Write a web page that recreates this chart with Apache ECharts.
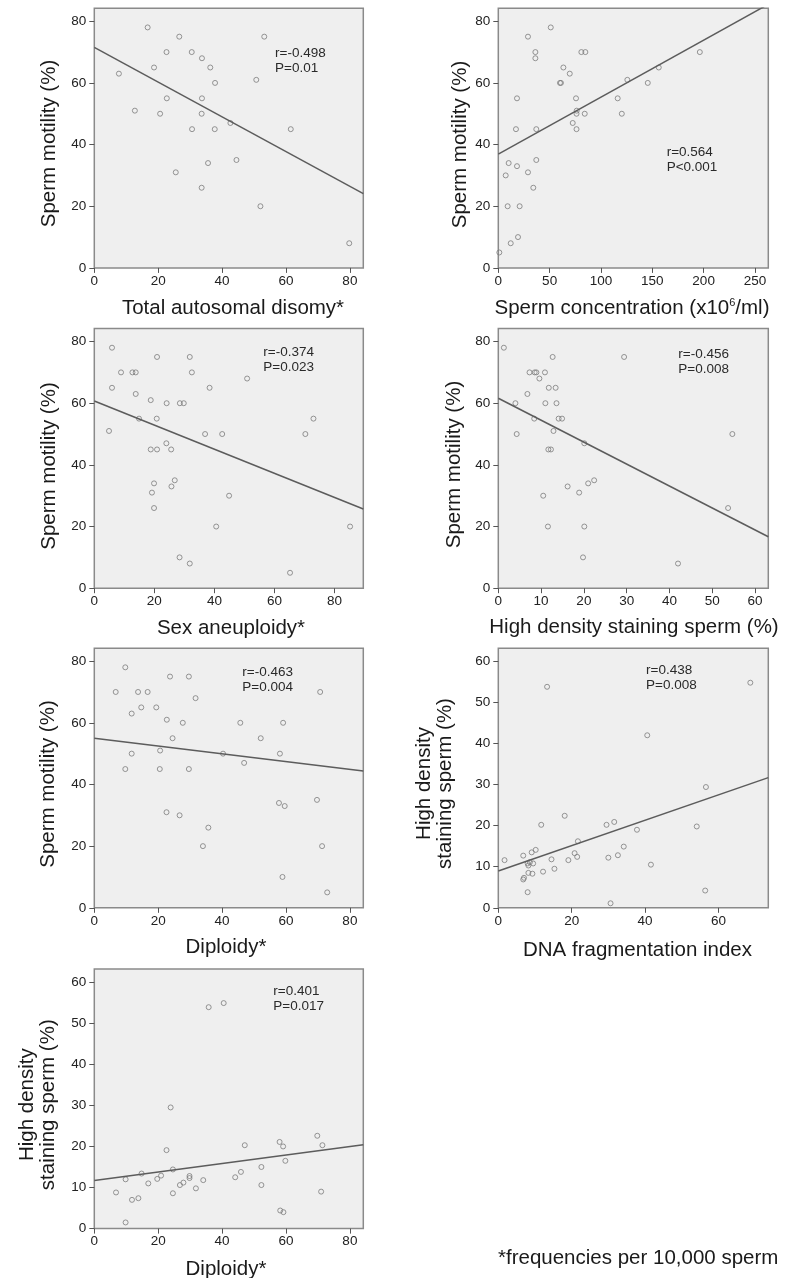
<!DOCTYPE html>
<html>
<head>
<meta charset="utf-8">
<script src="https://cdn.jsdelivr.net/npm/echarts@6/dist/echarts.min.js"></script>
<style>
html, body { margin: 0; padding: 0; background: #fff; }
#chart { width: 790px; height: 1278px; }
</style>
</head>
<body>
<div id="chart"></div>
<script>
// points [x, y], one array per panel
var autosomalMotility = [[7.7, 63], [16.7, 78], [12.7, 51], [18.7, 65], [22.6, 70], [22.7, 55], [20.6, 50], [26.6, 75], [25.5, 31], [30.5, 70], [30.6, 45], [33.7, 68], [33.7, 55], [33.6, 50], [33.6, 26], [36.3, 65], [37.8, 60], [37.7, 45], [35.6, 34], [42.6, 47], [44.5, 35], [50.7, 61], [53.2, 75], [52, 20], [61.5, 45], [79.8, 8]]
var concentrationMotility = [[1, 5], [7.2, 30], [10.1, 34], [9.1, 20], [12.1, 8], [17.2, 45], [18.2, 55], [18.2, 33], [19.2, 10], [20.8, 20], [28.9, 75], [28.9, 31], [34.1, 26], [36.1, 70], [36.1, 68], [37, 45], [37, 35], [51.1, 78], [60.1, 60], [61, 60], [63.4, 65], [69.6, 63], [72.5, 47], [75.7, 55], [76.4, 51], [76.2, 50], [76.2, 45], [80.9, 70], [84.8, 70], [84.2, 50], [116.3, 55], [120.3, 50], [125.7, 61], [145.6, 60], [156.3, 65], [196.3, 70]]
var sexAneuMotility = [[5.9, 78], [5.9, 65], [4.9, 51], [8.9, 70], [12.7, 70], [13.8, 70], [13.8, 63], [14.9, 55], [18.8, 61], [20.9, 75], [20.8, 55], [24.1, 60], [28.5, 60], [29.8, 60], [31.8, 75], [32.5, 70], [38.4, 65], [36.9, 50], [42.6, 50], [50.9, 68], [18.8, 45], [20.9, 45], [24, 47], [25.6, 45], [19.9, 34], [25.7, 33], [26.8, 35], [19.2, 31], [19.9, 26], [44.9, 30], [40.6, 20], [70.3, 50], [73, 55], [85.2, 20], [28.4, 10], [31.8, 8], [65.2, 5]]
var hdsMotility = [[1.3, 78], [4, 60], [4.3, 50], [6.8, 63], [7.3, 70], [8.5, 70], [8.9, 70], [9.6, 68], [8.4, 55], [10.9, 70], [11, 60], [11.8, 65], [13.4, 65], [12.7, 75], [13.6, 60], [12.9, 51], [11.7, 45], [12.3, 45], [14.1, 55], [14.9, 55], [20.1, 47], [16.2, 33], [18.9, 31], [21, 34], [22.4, 35], [10.5, 30], [11.6, 20], [20.1, 20], [29.4, 75], [54.7, 50], [53.7, 26], [19.8, 10], [42, 8]]
var diploidyMotility = [[6.7, 70], [9.7, 78], [11.7, 63], [9.7, 45], [11.7, 50], [13.7, 70], [14.7, 65], [16.7, 70], [19.4, 65], [22.7, 61], [23.7, 75], [24.5, 55], [20.6, 51], [20.5, 45], [27.7, 60], [29.6, 75], [29.6, 45], [31.7, 68], [40.3, 50], [45.7, 60], [46.9, 47], [52.1, 55], [58.1, 50], [59.1, 60], [70.7, 70], [57.8, 34], [59.6, 33], [69.7, 35], [22.6, 31], [26.7, 30], [35.7, 26], [34, 20], [71.3, 20], [58.9, 10], [72.9, 5]]
var dfiHds = [[13.3, 53.8], [68.7, 54.8], [40.6, 42], [56.6, 29.4], [1.7, 11.6], [6.8, 12.7], [6.8, 6.9], [7, 7.3], [8, 3.8], [8, 10.8], [8.2, 10.3], [8.6, 11.1], [8.2, 8.5], [9.3, 8.3], [9.5, 10.8], [9.1, 13.5], [10.2, 14.1], [11.7, 20.2], [12.2, 8.8], [14.5, 11.8], [15.3, 9.5], [18.1, 22.4], [19.1, 11.6], [20.8, 13.3], [21.5, 12.4], [21.7, 16.2], [29.5, 20.2], [31.6, 20.9], [30, 12.2], [30.6, 1.1], [32.6, 12.8], [34.2, 14.9], [37.8, 19], [41.6, 10.5], [54.1, 19.8], [56.4, 4.2]]
var diploidyHds = [[35.8, 53.9], [40.5, 54.9], [6.8, 8.8], [9.8, 1.5], [9.8, 12], [11.8, 7], [13.8, 7.4], [14.8, 13.4], [16.9, 11], [19.7, 12.1], [20.9, 12.9], [22.6, 19.1], [23.9, 29.5], [24.6, 14.4], [24.6, 8.6], [26.8, 10.6], [27.9, 11.2], [29.8, 12.8], [29.8, 12.3], [31.8, 9.8], [34.1, 11.8], [44.1, 12.5], [45.9, 13.8], [47.1, 20.3], [52.3, 15], [52.3, 10.6], [58, 21.1], [59.1, 20], [59.8, 16.5], [58.2, 4.4], [59.2, 4], [69.8, 22.6], [71.4, 20.3], [71, 9]]

// regression lines, [x, y] at both ends
var fitAutosomal = [[0, 71.5], [84.2, 24.1]]
var fitConcentration = [[0, 36.9], [263, 85.5]]
var fitSexAneu = [[0, 60.7], [89.6, 25.7]]
var fitHds = [[0, 61.6], [63.1, 16.7]]
var fitDiploidy = [[0, 55], [84.2, 44.4]]
var fitDfi = [[0, 8.95], [73.6, 31.7]]
var fitDiploidyHds = [[0, 11.7], [84.2, 20.4]]

// axis ranges and ticks
var xAxisMax = [84.2, 263, 89.6, 63.1, 84.2, 73.6, 84.2]
var yAxisMax = [84.2, 84.2, 84.2, 84.2, 84.2, 63.2, 63.2]
var ticks0to80 = [0, 20, 40, 60, 80]
var ticksConc = [0, 50, 100, 150, 200, 250]
var ticksBy10 = [0, 10, 20, 30, 40, 50, 60]
var ticks0to60 = [0, 20, 40, 60]

var xTitles = ['Total autosomal disomy*', 'Sperm concentration (x10{sup|6}/ml)', 'Sex aneuploidy*', 'High density staining sperm (%)', 'Diploidy*', 'DNA fragmentation index', 'Diploidy*']
var yTitles = ['Sperm motility (%)', 'Sperm motility (%)', 'Sperm motility (%)', 'Sperm motility (%)', 'Sperm motility (%)', 'High density\nstaining sperm (%)', 'High density\nstaining sperm (%)']
var statTexts = ['r=-0.498\nP=0.01', 'r=0.564\nP<0.001', 'r=-0.374\nP=0.023', 'r=-0.456\nP=0.008', 'r=-0.463\nP=0.004', 'r=0.438\nP=0.008', 'r=0.401\nP=0.017']
var footnote = '*frequencies per 10,000 sperm'

var points = [autosomalMotility, concentrationMotility, sexAneuMotility, hdsMotility, diploidyMotility, dfiHds, diploidyHds]
var fits = [fitAutosomal, fitConcentration, fitSexAneu, fitHds, fitDiploidy, fitDfi, fitDiploidyHds]
var xTicks = [ticks0to80, ticksConc, ticks0to80, ticksBy10, ticks0to80, ticks0to60, ticks0to80]
var yTicks = [ticks0to80, ticks0to80, ticks0to80, ticks0to80, ticks0to80, ticksBy10, ticksBy10]

var FONT = '"Liberation Sans", Arial, sans-serif'
var colLeft = [94.3, 498.3]
var colWidth = [269, 270]
var rowTop = [8.3, 328.6, 648.2, 969]
var plotH = 259.6

// text positions
var xTitlePos = [[233, 308], [632, 308.3], [231, 628.3], [634, 627.3], [226, 947], [637.5, 950], [226, 1269]]
var yTitlePos = [[49.7, 143.5], [460, 144.5], [49, 466], [454.5, 464.5], [48, 784], [434.5, 783.5], [37.5, 1104.7]]
var statPos = [[275, 53.3], [666.7, 152.7], [263.3, 352], [678.3, 354.3], [242.3, 672.3], [646, 670.7], [273.3, 991]]

var chart = echarts.init(document.getElementById('chart'), null, { renderer: 'canvas' })

var grids = []
var xAxes = []
var yAxes = []
var series = []
var graphics = []

for (var i = 0; i < points.length; i++) {
  var col = i % 2
  var row = Math.floor(i / 2)
  grids.push({
    show: true,
    left: colLeft[col],
    top: rowTop[row],
    width: colWidth[col],
    height: plotH,
    backgroundColor: '#efefef',
    borderColor: '#8a8a8a',
    borderWidth: 1.5
  })
  xAxes.push({
    type: 'value',
    gridIndex: i,
    min: 0,
    max: xAxisMax[i],
    axisLine: { show: false },
    axisTick: { show: true, length: 5, lineStyle: { color: '#555', width: 1 }, customValues: xTicks[i] },
    axisLabel: { customValues: xTicks[i], fontSize: 13.5, fontFamily: FONT, color: '#222', margin: 6 },
    splitLine: { show: false }
  })
  yAxes.push({
    type: 'value',
    gridIndex: i,
    min: 0,
    max: yAxisMax[i],
    axisLine: { show: false },
    axisTick: { show: true, length: 5, lineStyle: { color: '#555', width: 1 }, customValues: yTicks[i] },
    axisLabel: { customValues: yTicks[i], fontSize: 13.5, fontFamily: FONT, color: '#222', margin: 8 },
    splitLine: { show: false }
  })
  series.push({
    type: 'line',
    xAxisIndex: i,
    yAxisIndex: i,
    data: fits[i],
    symbol: 'none',
    clip: true,
    silent: true,
    lineStyle: { color: '#5c5c5c', width: 1.5 }
  })
  series.push({
    type: 'scatter',
    xAxisIndex: i,
    yAxisIndex: i,
    data: points[i],
    symbol: 'circle',
    symbolSize: 5,
    silent: true,
    itemStyle: { color: 'rgba(0,0,0,0)', borderColor: '#7c7c7c', borderWidth: 1 }
  })

  graphics.push({
    type: 'text',
    x: xTitlePos[i][0],
    y: xTitlePos[i][1],
    style: {
      text: xTitles[i],
      fontSize: 20.5,
      fontFamily: FONT,
      fill: '#1a1a1a',
      align: 'center',
      verticalAlign: 'middle',
      rich: { sup: { fontSize: 11, fontFamily: FONT, fill: '#1a1a1a', verticalAlign: 'top', padding: [0, 0, 10, 0] } }
    }
  })
  graphics.push({
    type: 'text',
    x: yTitlePos[i][0],
    y: yTitlePos[i][1],
    rotation: Math.PI / 2,
    style: {
      text: yTitles[i],
      fontSize: 20.5,
      fontFamily: FONT,
      fill: '#1a1a1a',
      lineHeight: 21,
      align: 'center',
      verticalAlign: 'middle'
    }
  })
  graphics.push({
    type: 'text',
    x: statPos[i][0],
    y: statPos[i][1] - 7.5,
    style: {
      text: statTexts[i],
      fontSize: 13.5,
      fontFamily: FONT,
      fill: '#2a2a2a',
      lineHeight: 15,
      align: 'left',
      verticalAlign: 'top'
    }
  })
}

graphics.push({
  type: 'text',
  x: 498,
  y: 1258,
  style: {
    text: footnote,
    fontSize: 20.5,
    fontFamily: FONT,
    fill: '#1a1a1a',
    align: 'left',
    verticalAlign: 'middle'
  }
})

chart.setOption({
  animation: false,
  backgroundColor: '#ffffff',
  grid: grids,
  xAxis: xAxes,
  yAxis: yAxes,
  series: series,
  graphic: graphics
})
</script>
</body>
</html>
